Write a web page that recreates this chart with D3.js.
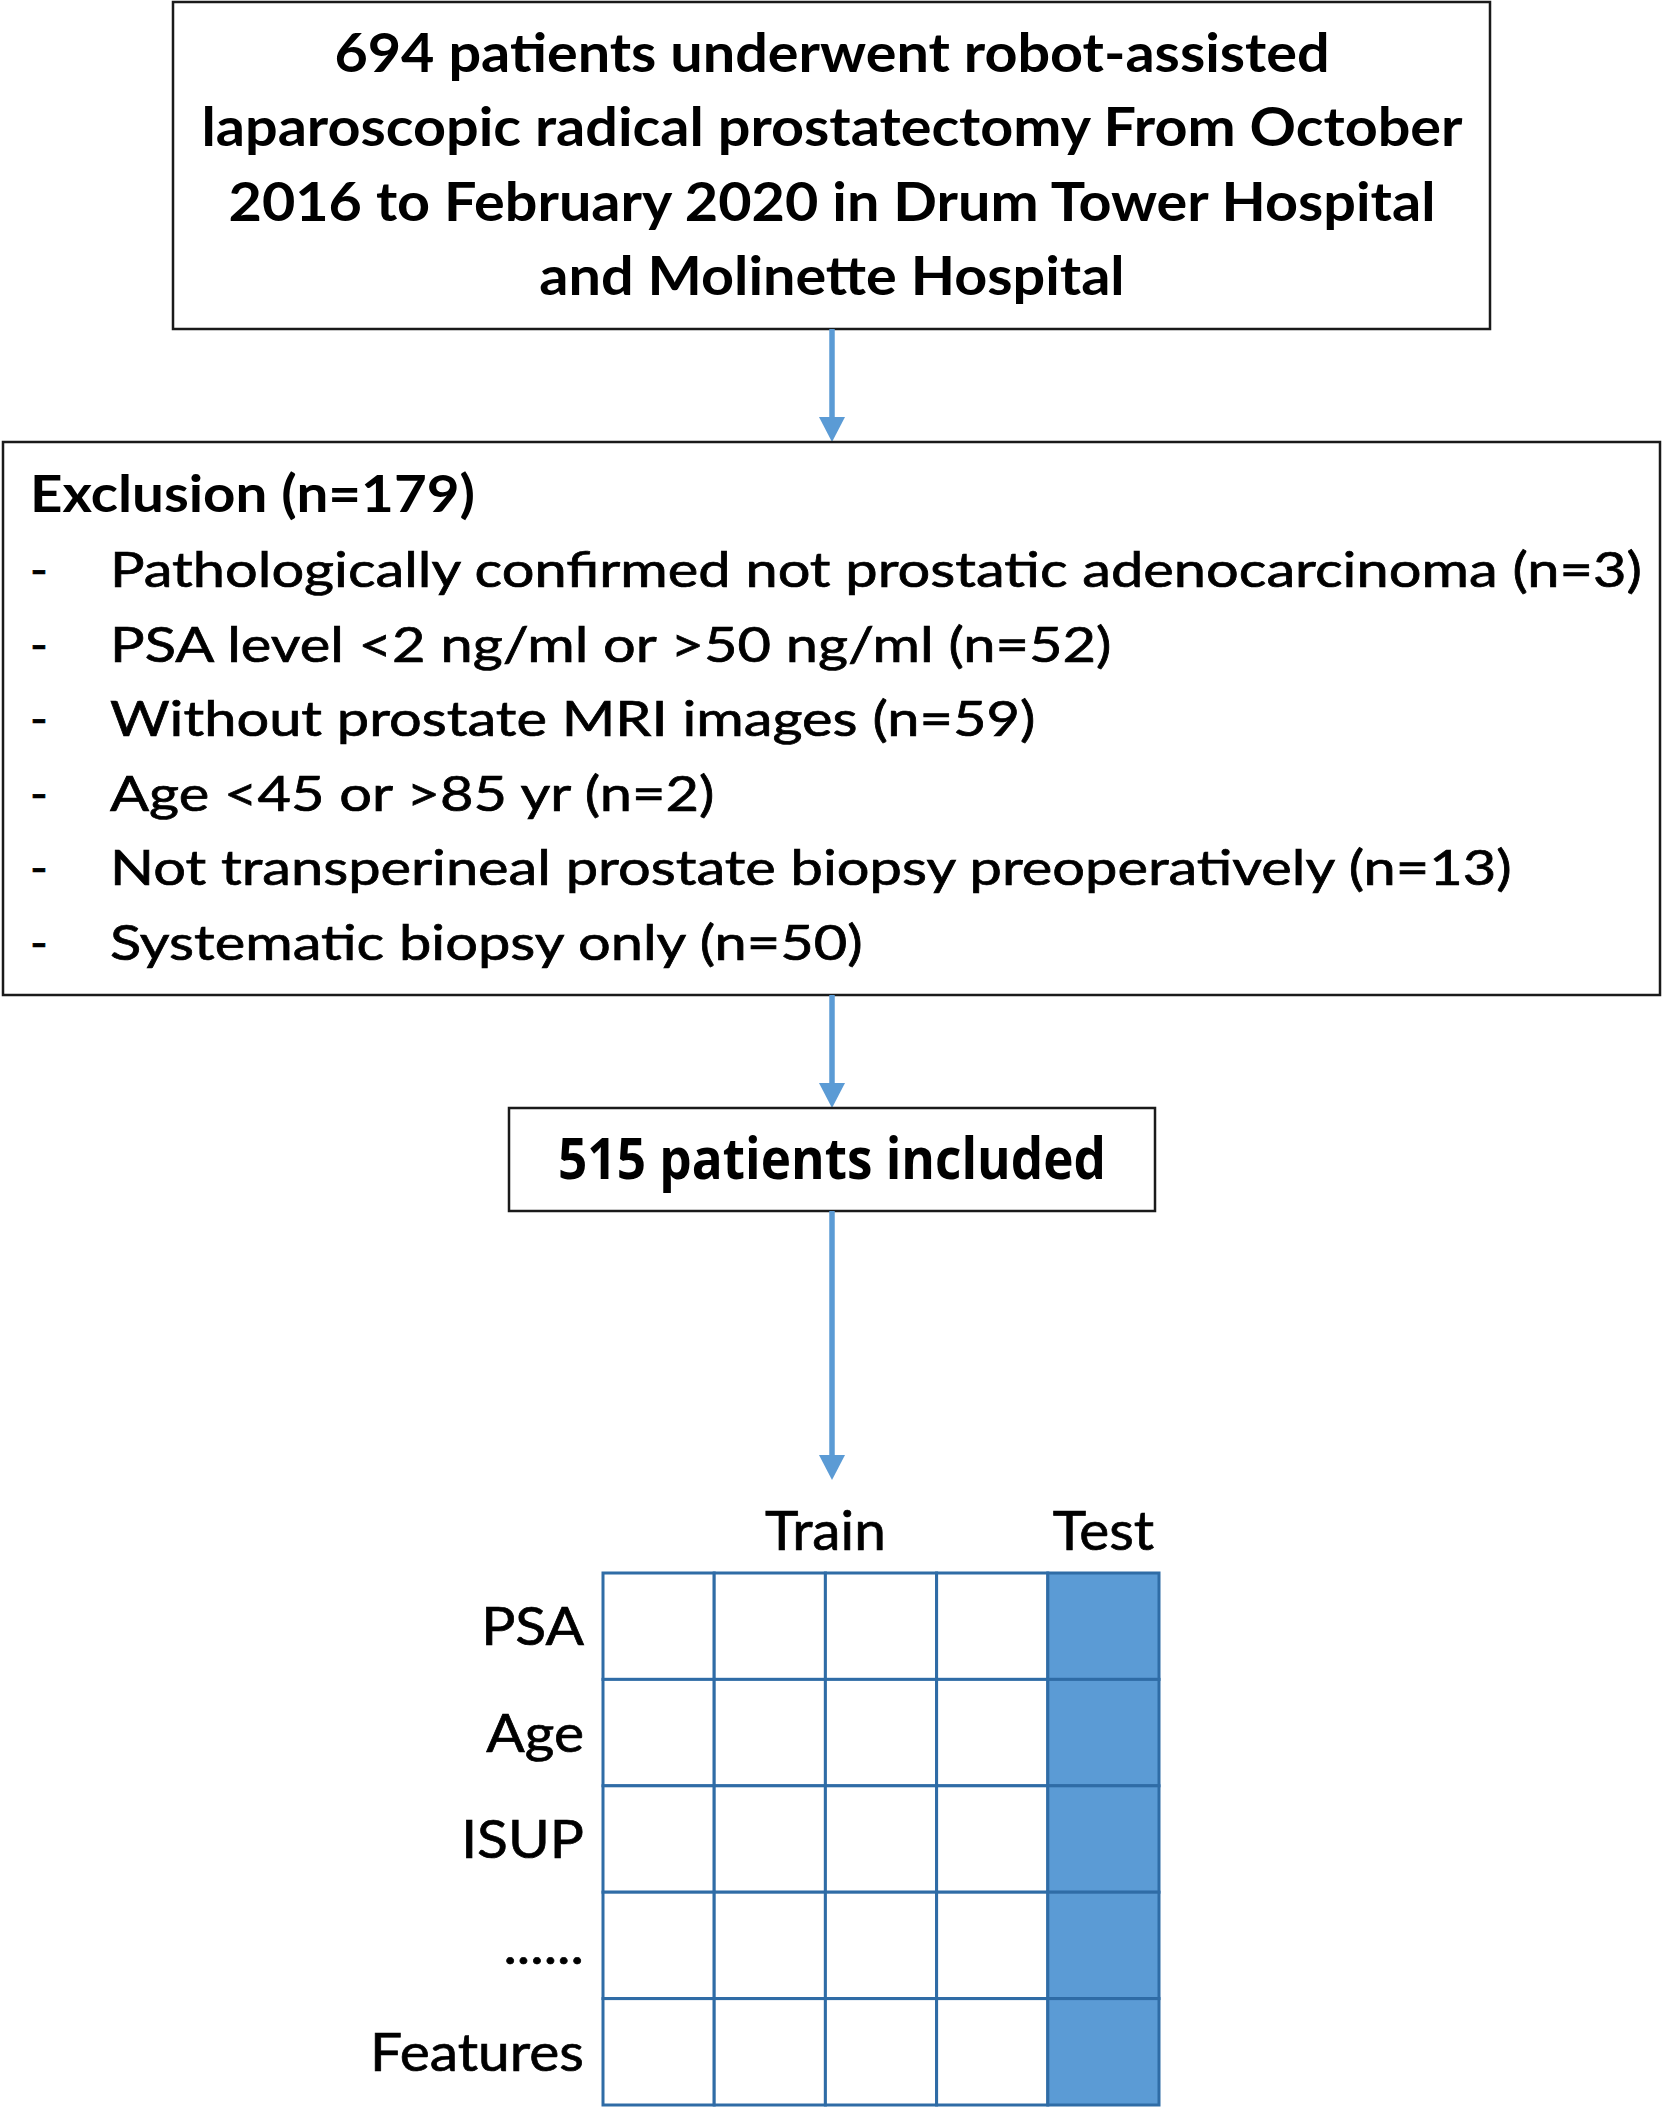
<!DOCTYPE html>
<html>
<head>
<meta charset="utf-8">
<script src="https://cdn.jsdelivr.net/npm/d3@7"></script>
<style>
html, body { margin: 0; padding: 0; background: #fff; }
svg { display: block; }
text.reg { stroke: #000; stroke-width: 0.7px; paint-order: stroke; }
</style>
</head>
<body>
<div id="flow"></div>
<script>
// chart content
const headerLines = [
  "694 patients underwent robot-assisted",
  "laparoscopic radical prostatectomy From October",
  "2016 to February 2020 in Drum Tower Hospital",
  "and Molinette Hospital"
];
const exclusionTotal = 179;
const exclusionReasons = [
  "Pathologically confirmed not prostatic adenocarcinoma",
  "PSA level <2 ng/ml or >50 ng/ml",
  "Without prostate MRI images",
  "Age <45 or >85 yr",
  "Not transperineal prostate biopsy preoperatively",
  "Systematic biopsy only"
];
const exclusionCounts = [3, 52, 59, 2, 13, 50];
const includedCount = 515;
const featureRows = ["PSA", "Age", "ISUP", "......", "Features"];
const folds = ["fold1", "fold2", "fold3", "fold4", "fold5"];
const foldRoles = ["Train", "Train", "Train", "Train", "Test"];
const roleNames = ["Train", "Test"];

const
svgWidth = 1663,
svgHeight = 2109;

const cx = 832;
const blue = "#5b9bd5";
const gridBlue = "#2f6ca6";
const boxStroke = "#1a1a1a";
const bodyFont = "Lato, 'Open Sans', sans-serif";

const svg = d3.select("#flow")
  .append("svg")
  .attr("width", svgWidth)
  .attr("height", svgHeight);

svg.append("rect")
  .attr("width", svgWidth)
  .attr("height", svgHeight)
  .attr("fill", "#fff");

// squeeze a group of texts so that the reference line gets the wanted width
function fitGroup(sel, refIndex, target) {
  const nodes = sel.nodes();
  const ratio = target / nodes[refIndex].getComputedTextLength();
  nodes.forEach(n => {
    const w = n.getComputedTextLength();
    d3.select(n)
      .attr("textLength", w * ratio)
      .attr("lengthAdjust", "spacingAndGlyphs");
  });
}

function box(x0, y0, x1, y1) {
  svg.append("rect")
    .attr("x", x0)
    .attr("y", y0)
    .attr("width", x1 - x0)
    .attr("height", y1 - y0)
    .attr("fill", "none")
    .attr("stroke", boxStroke)
    .attr("stroke-width", 2.5);
}

function arrow(y0, y1) {
  const head = 25;
  svg.append("line")
    .attr("x1", cx).attr("x2", cx)
    .attr("y1", y0).attr("y2", y1 - head + 2)
    .attr("stroke", blue)
    .attr("stroke-width", 5.5);
  svg.append("path")
    .attr("d", `M${cx - 13},${y1 - head} L${cx + 13},${y1 - head} L${cx},${y1} Z`)
    .attr("fill", blue);
}

// top box
box(173, 2, 1490, 329);
const headerY = d3.scaleLinear().domain([0, headerLines.length - 1]).range([72, 295]);
const header = svg.append("g").selectAll("text")
  .data(headerLines)
  .enter()
  .append("text")
  .attr("x", cx)
  .attr("y", (d, i) => headerY(i))
  .attr("text-anchor", "middle")
  .style("font-family", bodyFont)
  .style("font-weight", 700)
  .style("font-size", "54px")
  .text(d => d);
fitGroup(header, 1, 1261);

arrow(329, 442);

// exclusion box
box(3, 442, 1660, 995);
const exTitle = svg.append("text")
  .attr("x", 30)
  .attr("y", 512)
  .style("font-family", bodyFont)
  .style("font-weight", 700)
  .style("font-size", "52px")
  .text(`Exclusion (n=${exclusionTotal})`);
fitGroup(exTitle, 0, 445);

const itemY = d3.scaleLinear().domain([0, exclusionReasons.length - 1]).range([587, 960]);
const items = svg.append("g");
items.selectAll("text.dash")
  .data(exclusionReasons)
  .enter()
  .append("text")
  .attr("class", "dash reg")
  .attr("x", 30)
  .attr("y", (d, i) => itemY(i))
  .style("font-family", bodyFont)
  .style("font-size", "48px")
  .text("-");
const itemText = items.selectAll("text.reason")
  .data(exclusionReasons)
  .enter()
  .append("text")
  .attr("class", "reason reg")
  .attr("x", 110)
  .attr("y", (d, i) => itemY(i))
  .style("font-family", bodyFont)
  .style("font-size", "48px")
  .text((d, i) => `${d} (n=${exclusionCounts[i]})`);
fitGroup(itemText, 0, 1532);

arrow(995, 1108);

// included box
box(509, 1108, 1155, 1211);
const inc = svg.append("text")
  .attr("x", cx)
  .attr("y", 1179)
  .attr("text-anchor", "middle")
  .style("font-family", "'Open Sans', 'DejaVu Sans', sans-serif")
  .style("font-weight", 700)
  .style("font-size", "57px")
  .text(`${includedCount} patients included`);
fitGroup(inc, 0, 548);

arrow(1211, 1480);

// cross-validation grid
const xBand = d3.scaleBand().domain(folds).range([603, 1159]);
const yBand = d3.scaleBand().domain(featureRows).range([1573, 2105]);

const cells = [];
featureRows.forEach(r => folds.forEach((f, j) => cells.push({ row: r, fold: f, role: foldRoles[j] })));

const grid = svg.append("g");
grid.selectAll("rect")
  .data(cells)
  .enter()
  .append("rect")
  .attr("x", d => xBand(d.fold))
  .attr("y", d => yBand(d.row))
  .attr("width", xBand.bandwidth())
  .attr("height", yBand.bandwidth())
  .attr("fill", d => d.role === "Test" ? blue : "#fff")
  .attr("stroke", gridBlue)
  .attr("stroke-width", 3);

// Train / Test headers centred over their folds
const roleLabels = svg.append("g").selectAll("text")
  .data(roleNames)
  .enter()
  .append("text")
  .attr("class", "reg")
  .attr("x", role => {
    const fs = folds.filter((f, j) => foldRoles[j] === role);
    return (xBand(fs[0]) + xBand(fs[fs.length - 1]) + xBand.bandwidth()) / 2;
  })
  .attr("y", 1550)
  .attr("text-anchor", "middle")
  .style("font-family", bodyFont)
  .style("font-size", "54px")
  .text(d => d);
fitGroup(roleLabels, 0, 121);

// row labels
const rowLabels = svg.append("g").selectAll("text")
  .data(featureRows)
  .enter()
  .append("text")
  .attr("class", "reg")
  .attr("x", 584)
  .attr("y", d => yBand(d) + yBand.bandwidth() / 2 + 19)
  .attr("text-anchor", "end")
  .style("font-family", bodyFont)
  .style("font-size", "53px")
  .text(d => d);
fitGroup(rowLabels, 4, 214);
</script>
</body>
</html>
